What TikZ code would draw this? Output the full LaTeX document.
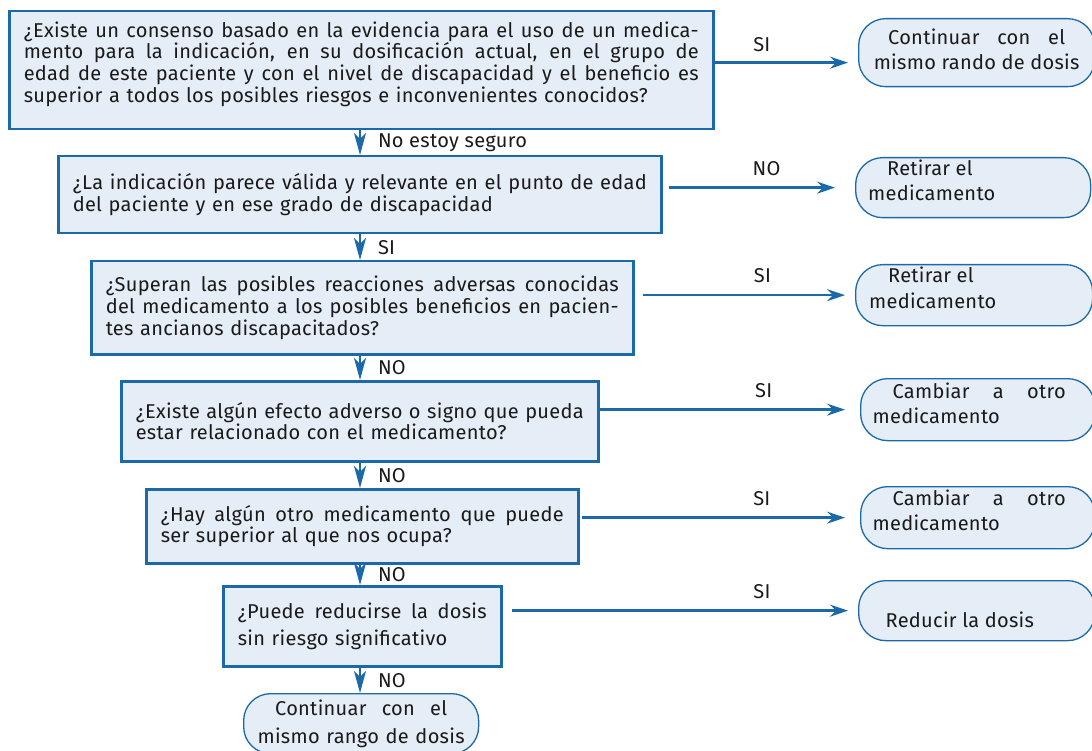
\documentclass[tikz,border=0pt]{standalone}
\usepackage{fontspec}
\setmainfont{Fira Sans}[LetterSpace=1.5]
\usetikzlibrary{arrows.meta, positioning, calc}
\definecolor{flowblue}{HTML}{1C69AA}
\definecolor{flowfill}{HTML}{E5EDF6}
\definecolor{flowtext}{HTML}{1A1A1A}
\newcommand{\spread}[2]{\makebox[#1][s]{\spaceskip=\fontdimen2\font plus 1fil\relax #2}}
\newcommand{\fullline}[1]{\spread{\hsize}{#1}}
\newcommand{\liftbox}[2]{\raisebox{#1}[0pt][0pt]{\parbox{210pt}{#2}}}

\begin{document}
\begin{tikzpicture}[x=1pt, y=-1pt,
  font=\fontsize{20}{21.7}\selectfont,
  qbox/.style={draw=flowblue, line width=2.5pt, fill=flowfill, inner sep=0pt, anchor=north west, align=left, text=flowtext},
  rbox/.style={draw=flowblue, line width=1.3pt, fill=flowfill, rounded corners=27pt, inner sep=0pt, anchor=north west, text=flowtext},
  flow/.style={draw=flowblue, line width=2.7pt, -{Stealth[length=18pt, width=12pt, inset=6pt]}},
  down/.style={draw=flowblue, line width=2pt, -{Stealth[length=22pt, width=12pt, inset=6pt]}},
  lbl/.style={inner sep=0pt, text=flowtext}]
\useasboundingbox (0,0) rectangle (1092,751);

\node[qbox, minimum width=704pt, minimum height=118pt, text width=675pt] (q1) at (8,10) {\fullline{¿Existe un consenso basado en la evidencia para el uso de un medica-}\\ \fullline{mento para la indicación, en su dosificación actual, en el grupo de}\\ \fullline{edad de este paciente y con el nivel de discapacidad y el beneficio es}\\ superior a todos los posibles riesgos e inconvenientes conocidos?\\[-5pt]\mbox{}};
\node[qbox, minimum width=603pt, minimum height=77pt, text width=574pt] (q2) at (57,155) {\fullline{¿La indicación parece válida y relevante en el punto de edad}\\ del paciente y en ese grado de discapacidad};
\node[qbox, minimum width=542pt, minimum height=93pt, text width=513pt] (q3) at (90,260) {\fullline{¿Superan las posibles reacciones adversas conocidas}\\ \fullline{del medicamento a los posibles beneficios en pacien-}\\ tes ancianos discapacitados?};
\node[qbox, minimum width=477pt, minimum height=80pt, text width=448pt] (q4) at (120,380) {\fullline{¿Existe algún efecto adverso o signo que pueda}\\ estar relacionado con el medicamento?};
\node[qbox, minimum width=432pt, minimum height=74pt, text width=403pt] (q5) at (145,488) {\fullline{¿Hay algún otro medicamento que puede}\\ ser superior al que nos ocupa?};
\node[qbox, minimum width=278pt, minimum height=80pt, text width=249pt] (q6) at (222,585) {\fullline{¿Puede reducirse la dosis}\\[5pt] sin riesgo significativo};

\node[rbox, minimum width=236pt, minimum height=68pt] (r1) at (858,18) {\liftbox{-2pt}{\centering\spread{177pt}{Continuar con el}\\[4pt] mismo rando de dosis}};
\node[rbox, minimum width=235pt, minimum height=60pt] (r2) at (855,157) {\liftbox{2pt}{\hspace*{19pt}Retirar el\\[4pt] medicamento}};
\node[rbox, minimum width=237pt, minimum height=61pt] (r3) at (855,264) {\liftbox{2pt}{\hspace*{19pt}Retirar el\\[4pt] medicamento}};
\node[rbox, minimum width=234pt, minimum height=62pt] (r4) at (860,378) {\liftbox{1pt}{\hspace*{20pt}\spread{173pt}{Cambiar a otro}\\[4pt] medicamento}};
\node[rbox, minimum width=234pt, minimum height=62pt] (r5) at (860,486) {\liftbox{2pt}{\hspace*{20pt}\spread{173pt}{Cambiar a otro}\\[4pt] medicamento}};
\node[rbox, minimum width=236pt, minimum height=60pt] (r6) at (858,580) {\liftbox{-14pt}{\hspace*{14pt}Reducir la dosis}};
\node[rbox, minimum width=235pt, minimum height=60pt, text width=210pt, align=center] (r7) at (243,693) {\spread{172pt}{Continuar con el}\\[6pt] mismo rango de dosis};

\coordinate (spine) at (360,0);
\draw[down] (spine |- q1.south) -- node[lbl, right=17pt]{No estoy seguro} (spine |- q2.north);
\draw[down] (spine |- q2.south) -- node[lbl, right=17pt]{SI} (spine |- q3.north);
\draw[down] (spine |- q3.south) -- node[lbl, right=17pt]{NO} (spine |- q4.north);
\draw[down] (spine |- q4.south) -- node[lbl, right=17pt]{NO} (spine |- q5.north);
\draw[down] (spine |- q5.south) -- node[lbl, right=17pt]{NO} (spine |- q6.north);
\draw[down] (spine |- q6.south) -- node[lbl, right=17pt]{NO} (spine |- r7.north);

\coordinate (a1) at ([yshift=-10pt]r1.west);
\draw[flow, shorten >=10pt] (a1 -| q1.east) -- node[lbl, above=10pt, pos=0.33]{SI} (a1);
\draw[flow, shorten <=6pt, shorten >=20pt] (q2.east |- r2.west) -- node[lbl, above=11pt, pos=0.54]{NO} (r2.west);
\draw[flow, shorten <=8pt, shorten >=10pt] (q3.east |- r3.west) -- node[lbl, above=11pt, pos=0.58]{SI} (r3.west);
\draw[flow, shorten >=15pt] (q4.east |- r4.west) -- node[lbl, above=11pt, pos=0.63]{SI} (r4.west);
\draw[flow, shorten <=2pt, shorten >=15pt] (q5.east |- r5.west) -- node[lbl, above=11pt, pos=0.65]{SI} (r5.west);
\draw[flow, shorten <=9pt, shorten >=10pt] (q6.east |- r6.west) -- node[lbl, above=11pt, pos=0.73]{SI} (r6.west);
\end{tikzpicture}
\end{document}
